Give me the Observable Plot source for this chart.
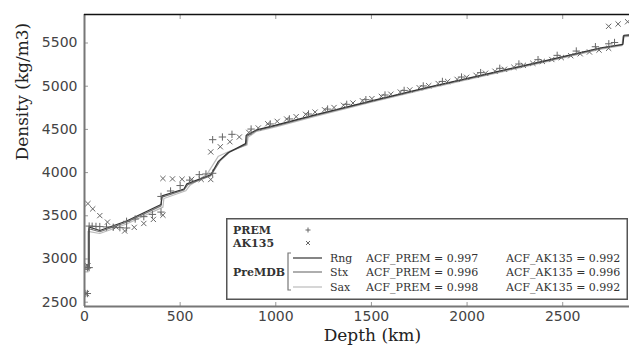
<!DOCTYPE html>
<html>
<head>
<meta charset="utf-8">
<script src="https://cdn.jsdelivr.net/npm/d3@7"></script>
<script src="https://cdn.jsdelivr.net/npm/@observablehq/plot@0.6"></script>
<style>
  html, body { margin: 0; padding: 0; background: white; overflow: hidden; }
  #wrap { position: relative; width: 629px; height: 350px; }
  #legend { position: absolute; left: 226px; top: 218px; }
  #legend text { font-family: "DejaVu Serif"; font-size: 11px; fill: #333; }
  #legend text.b { font-size: 11px; font-weight: bold; }
</style>
</head>
<body>
<div id="wrap">
  <div id="chart"></div>
  <div id="legend">
    <svg width="402" height="82">
      <rect x="0.75" y="0.75" width="400.5" height="80.5" fill="white" stroke="#555" stroke-width="1.5"/>
      <text class="b" x="7" y="16">PREM</text>
      <text class="b" x="7" y="29">AK135</text>
      <path d="M79.5,12h5M82,9.5v5" stroke="#666" stroke-width="1" fill="none"/>
      <path d="M80,23l4,4M84,23l-4,4" stroke="#666" stroke-width="1" fill="none"/>
      <text class="b" x="7" y="58">PreMDB</text>
      <path d="M65,35H62V72H65" stroke="#777" stroke-width="1.2" fill="none"/>
      <line x1="67" x2="96" y1="40" y2="40" stroke="#333" stroke-width="1.2"/>
      <line x1="67" x2="96" y1="54" y2="54" stroke="#777" stroke-width="1.2"/>
      <line x1="67" x2="96" y1="69" y2="69" stroke="#bbb" stroke-width="1.2"/>
      <text x="104" y="44">Rng</text>
      <text x="104" y="58">Stx</text>
      <text x="104" y="73">Sax</text>
      <text x="140" y="44">ACF_PREM = 0.997</text>
      <text x="140" y="58">ACF_PREM = 0.996</text>
      <text x="140" y="73">ACF_PREM = 0.998</text>
      <text x="280" y="44">ACF_AK135 = 0.992</text>
      <text x="280" y="58">ACF_AK135 = 0.996</text>
      <text x="280" y="73">ACF_AK135 = 0.992</text>
    </svg>
  </div>
</div>
<script>
// ---- Data (depth in km, density in kg/m3) ----
const premDepth = [3,15,15,24.4,24.4,40,60,80,115,150,185,220,220,265,310,355,400,400,450,500,550,600,635,670,670,721,771,871,971,1071,1171,1271,1371,1471,1571,1671,1771,1871,1971,2071,2171,2271,2371,2471,2571,2671,2741,2771,2871,2891];
const premDensity = [2600,2600,2900,2900,3381,3379,3377,3375,3371,3367,3363,3359,3436,3463,3490,3516,3543,3724,3787,3850,3913,3976,3984,3992,4381,4412,4443,4504,4563,4621,4678,4735,4790,4844,4898,4951,5003,5055,5106,5157,5207,5257,5307,5357,5407,5457,5491,5506,5556,5566];

const akDepth = [3.3,10,10,18,18,43,80,120,165,210,260,310,360,410,410,460,510,560,610,660,660,710,760,809.5,859,908.5,958,1007.5,1057,1106.5,1156,1205.5,1255,1304.5,1354,1403.5,1453,1502.5,1552,1601.5,1651,1700.5,1750,1799.5,1849,1898.5,1948,1997.5,2047,2096.5,2146,2195.5,2245,2294.5,2344,2393.5,2443,2492.5,2542,2591.5,2640,2690,2740,2740,2789.67,2839.33,2891.5];
const akDensity = [2600,2600,2920,2920,3641,3580,3502,3427,3371,3324,3366,3411,3458,3507,3932,3927,3923,3922,3921,3920,4239,4299,4357,4412,4465,4516,4565,4593,4620,4647,4674,4700,4727,4753,4779,4805,4831,4856,4882,4907,4932,4957,4982,5006,5031,5055,5079,5103,5126,5150,5173,5196,5219,5242,5265,5287,5309,5331,5353,5375,5396,5418,5439,5693,5720,5746,5772];

const rngDepth = [0,24,24,80,220,400,405,520,535,660,700,750,842,845,900,1000,1200,1500,1800,2100,2400,2700,2815,2820,2891];
const rngDensity = [2900,2900,3370,3330,3440,3630,3730,3810,3870,3975,4130,4230,4335,4430,4495,4550,4665,4830,4990,5140,5290,5445,5485,5590,5600];

const stxDepth = [0,22,22,80,220,400,405,520,540,660,710,760,845,850,900,1000,1200,1500,1800,2100,2400,2700,2812,2817,2891];
const stxDensity = [2880,2880,3350,3315,3425,3615,3715,3800,3860,3965,4140,4240,4325,4420,4488,4540,4658,4825,4985,5135,5284,5438,5480,5582,5592];

const saxDepth = [0,18,18,80,220,410,415,530,550,640,700,760,850,855,900,1000,1200,1500,1800,2100,2400,2700,2810,2815,2891];
const saxDensity = [2850,2850,3320,3295,3405,3600,3700,3790,3850,3980,4190,4250,4320,4410,4478,4530,4648,4815,4975,5125,5275,5428,5470,5572,5582];

const xTicks = [0,500,1000,1500,2000,2500];
const yTicks = [2500,3000,3500,4000,4500,5000,5500];
const xDomain = [0, 2891];
const yDomain = [2450, 5830];

const toRows = (ds, vs) => ds.map((d, i) => ({depth: d, rho: vs[i]}));
const prem = toRows(premDepth, premDensity);
const ak = toRows(akDepth, akDensity);
const rng = toRows(rngDepth, rngDensity);
const stx = toRows(stxDepth, stxDensity);
const sax = toRows(saxDepth, saxDensity);
const blank = () => "";

const chart = Plot.plot({
  width: 629,
  height: 350,
  marginLeft: 84,
  marginRight: 0,
  marginTop: 14,
  marginBottom: 44,
  x: {domain: xDomain, range: [84, 637]},
  y: {domain: yDomain},
  style: {fontFamily: "DejaVu Sans", fontSize: "14px", color: "#444", background: "white"},
  marks: [
    Plot.line(sax, {x: "depth", y: "rho", stroke: "#bbb", strokeWidth: 1.2, clip: true}),
    Plot.line(stx, {x: "depth", y: "rho", stroke: "#777", strokeWidth: 1.2, clip: true}),
    Plot.line(rng, {x: "depth", y: "rho", stroke: "#333", strokeWidth: 1.2, clip: true}),
    Plot.dot(prem, {x: "depth", y: "rho", symbol: "plus", r: 2.5, stroke: "#666", strokeWidth: 1, clip: true}),
    Plot.dot(ak, {x: "depth", y: "rho", symbol: "times", r: 2.5, stroke: "#666", strokeWidth: 1, clip: true}),
    Plot.axisX({ticks: xTicks, tickSize: 0, tickPadding: 5, label: null, tickFormat: "d", fill: "#444"}),
    Plot.axisX({ticks: xTicks, tickSize: 4, dy: -4, tickFormat: blank, label: null, stroke: "#999"}),
    Plot.axisX({anchor: "top", ticks: xTicks, tickSize: 4, dy: 4, tickFormat: blank, label: null, stroke: "#999"}),
    Plot.axisY({ticks: yTicks, tickSize: 0, tickPadding: 7, label: null, tickFormat: "d", fill: "#444"}),
    Plot.axisY({ticks: yTicks, tickSize: 4, dx: 4, tickFormat: blank, label: null, stroke: "#999"}),
    Plot.ruleX([xDomain[0]], {stroke: "#777", strokeWidth: 2}),
    Plot.ruleY([yDomain[0]], {stroke: "#777", strokeWidth: 2}),
    Plot.ruleY([yDomain[1]], {stroke: "#111", strokeWidth: 1.5}),
    Plot.text(["Depth (km)"], {x: 1505, frameAnchor: "bottom", dy: 34, fontSize: 17, fontFamily: "DejaVu Serif", fill: "#222"}),
    Plot.text(["Density (kg/m3)"], {frameAnchor: "left", dx: -62, rotate: -90, fontSize: 17, fontFamily: "DejaVu Serif", fill: "#222"})
  ]
});
document.getElementById("chart").appendChild(chart);
</script>
</body>
</html>
